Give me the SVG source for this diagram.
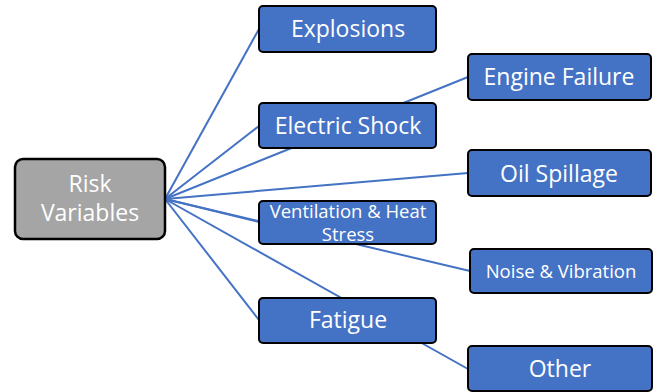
<svg xmlns="http://www.w3.org/2000/svg" width="655" height="392" viewBox="0 0 655 392">
<style>
.box{fill:#4472C4;stroke:#000;stroke-width:2}
.root{fill:#A5A5A5;stroke:#000;stroke-width:2.5}
.t{fill:#fff;font-family:"Open Sans",Lato,sans-serif;font-size:23px;text-anchor:middle}
.s{font-size:18.5px}
.n{font-size:18.5px}
.c line{stroke:#4472C4;stroke-width:2}
</style>
<rect width="655" height="392" fill="#fff"/>
<g id="connectors" class="c">
<line x1="165" y1="199" x2="259" y2="29"/>
<line x1="165" y1="199" x2="259" y2="126"/>
<line x1="165" y1="199" x2="468" y2="77"/>
<line x1="165" y1="199" x2="468" y2="173"/>
<line x1="165" y1="199" x2="259" y2="222"/>
<line x1="165" y1="199" x2="470" y2="271"/>
<line x1="165" y1="199" x2="259" y2="320"/>
<line x1="165" y1="199" x2="468" y2="369"/>
</g>
<g id="risk"><rect class="root" x="15" y="159" width="150" height="80" rx="8"/><text class="t" x="90" y="192">Risk</text><text class="t" x="90" y="221">Variables</text></g>
<g id="explosions"><rect class="box" x="259" y="6" width="177" height="46" rx="4"/><text class="t" x="348" y="37">Explosions</text></g>
<g id="electric"><rect class="box" x="259" y="103" width="177" height="45" rx="4"/><text class="t" x="348" y="134">Electric Shock</text></g>
<g id="ventilation"><rect class="box" x="259" y="201" width="177" height="43" rx="4"/><text class="t s" x="348" y="218">Ventilation &amp; Heat</text><text class="t s" x="348" y="241">Stress</text></g>
<g id="fatigue"><rect class="box" x="259" y="298" width="177" height="45" rx="4"/><text class="t" x="348" y="328">Fatigue</text></g>
<g id="engine"><rect class="box" x="468" y="54" width="183" height="46" rx="4"/><text class="t" x="559" y="85">Engine Failure</text></g>
<g id="oil"><rect class="box" x="468" y="150" width="183" height="46" rx="4"/><text class="t" x="559" y="182">Oil Spillage</text></g>
<g id="noise"><rect class="box" x="470" y="249" width="182" height="44" rx="4"/><text class="t n" x="561" y="278">Noise &amp; Vibration</text></g>
<g id="other"><rect class="box" x="468" y="346" width="184" height="45" rx="4"/><text class="t" x="560" y="377">Other</text></g>
</svg>
